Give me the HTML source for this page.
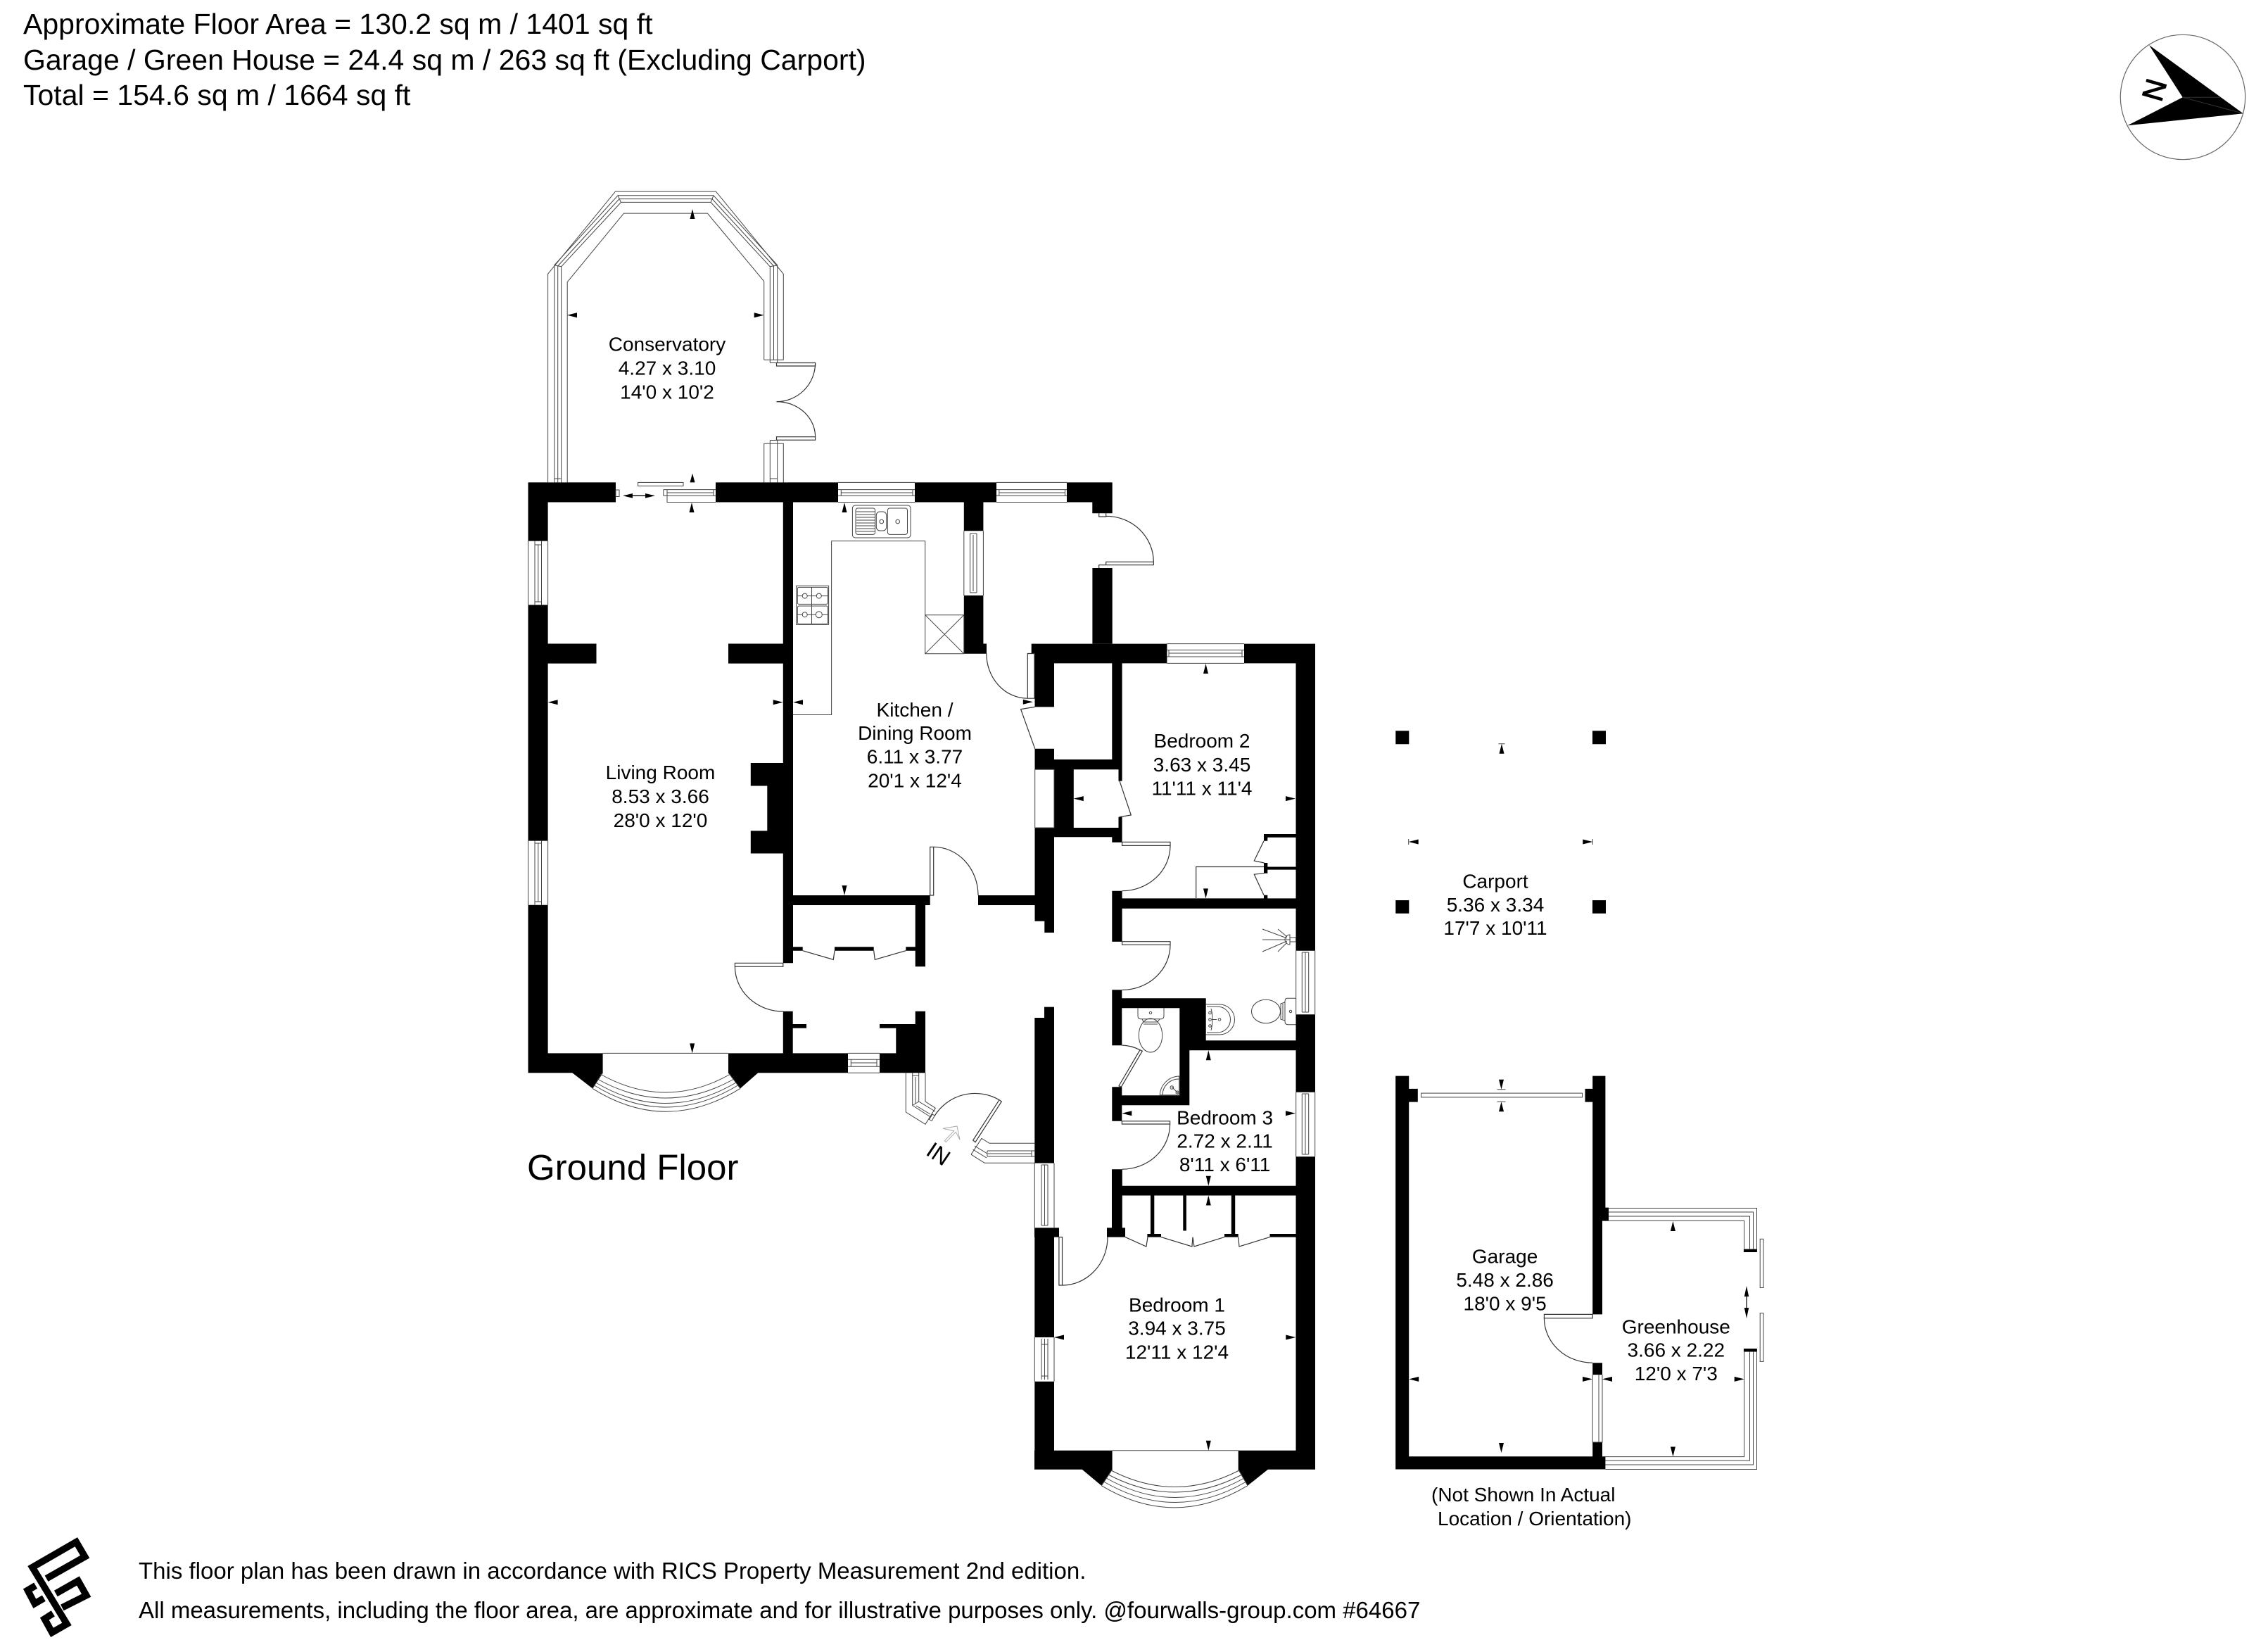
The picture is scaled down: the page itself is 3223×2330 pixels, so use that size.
<!DOCTYPE html>
<html><head><meta charset="utf-8"><title>Floor plan</title>
<style>
html,body{margin:0;padding:0;background:#fff}
svg{display:block}
text{font-family:"Liberation Sans",Arial,sans-serif;fill:#000}
.r text{font-size:28px;text-anchor:middle}
.t text{font-size:41px}
.f text{font-size:33px}
.l{fill:none;stroke:#444;stroke-width:1}
.d{fill:none;stroke:#333;stroke-width:1.2}
</style></head><body>
<svg width="3223" height="2330" viewBox="0 0 3223 2330" xmlns="http://www.w3.org/2000/svg">
<rect width="3223" height="2330" fill="#fff"/>

<g class="t">
<text x="33" y="48">Approximate Floor Area = 130.2 sq m / 1401 sq ft</text>
<text x="33" y="99">Garage / Green House = 24.4 sq m / 263 sq ft (Excluding Carport)</text>
<text x="33" y="149">Total = 154.6 sq m / 1664 sq ft</text>
</g>

<!-- compass -->
<circle cx="3102" cy="138" r="88.7" fill="none" stroke="#666" stroke-width="1.2"/>
<path d="M3054 64L3187.7 161.3L3023.3 178.3L3101.7 138.3Z" fill="#000"/>
<path d="M3102 138.3H3155M3102 138.3L3187 161" fill="none" stroke="#333" stroke-width="1"/>
<text transform="translate(3061,127.7) rotate(-74)" y="15" text-anchor="middle" font-size="42" stroke="#000" stroke-width="1">N</text>

<!-- black walls -->
<path fill="#000" d="
M750.5 685.4H875V713.5H750.5Z
M1017 685.4H1191V713.5H1017Z
M1300 685.4H1416V713.5H1300Z
M1516 685.4H1580.7V713.5H1516Z
M1552.3 713.3H1580.7V729.3H1552.3Z
M750.5 713.5H778.6V768.6H750.5Z
M750.5 859.4H778.6V1194.6H750.5Z
M750.5 1285.7H778.6V1496.4H750.5Z
M750.5 914.5H847.5V942.6H750.5Z
M1035 914.5H1127V942.6H1035Z
M1112.8 713.5H1127V1368.3H1112.8Z
M1112.8 1436.7H1126.7V1496.4H1112.8Z
M1066.8 1084H1126.5V1116.5H1066.8Z
M1090.3 1116.5H1126.5V1180.4H1090.3Z
M1066.8 1180.4H1126.5V1212.5H1066.8Z
M750.5 1496.4H856.6V1524.2H750.5Z
M1035 1496.4H1205V1524.2H1035Z
M1250 1496.4H1315V1524.2H1250Z
M813 1524H856.6L842 1546.4Z
M1035 1524H1077.5L1052 1546.4Z
M1112.8 1272H1321.7V1286H1112.8Z
M1390 1272H1498V1286H1390Z
M1300.7 1286H1315V1373.3H1300.7Z
M1112.8 1345.3H1140.7V1350.7H1112.8Z
M1186 1345.3H1241.7V1350.7H1186Z
M1287.3 1345.3H1315V1350.7H1287.3Z
M1112.8 1455H1146V1460.7H1112.8Z
M1300.7 1436.7H1315V1455H1300.7Z
M1250 1455H1315V1460.7H1250Z
M1273.3 1460.7H1315V1496.4H1273.3Z
M1369.8 713.5H1397.4V754.3H1369.8Z
M1369.8 846H1397.4V914.5H1369.8Z
M1369.8 914.5H1402V928.8H1369.8Z
M1552.4 807H1580.7V914.5H1552.4Z
M1465.7 914.6H1658.4V928.8H1465.7Z
M1470.3 928.8H1658.4V942.4H1470.3Z
M1768 914.6H1869V942.4H1768Z
M1470.5 942.4H1498V1004.4H1470.5Z
M1580.3 942.4H1594.6V1079H1580.3Z
M1470.5 1063.7H1498V1079H1470.5Z
M1470.5 1079H1594.6V1093.3H1470.5Z
M1498 1093.3H1525.8V1176H1498Z
M1589.5 1093.3H1594.6V1109.6H1589.5Z
M1589.5 1160.6H1594.6V1176H1589.5Z
M1470.5 1176H1594.6V1189.2H1470.5Z
M1580.3 1189.2H1594.6V1196.8H1580.3Z
M1470.5 1189.2H1498V1308.7H1470.5Z
M1484.3 1308.7H1498V1325H1484.3Z
M1841.5 942.4H1869V1350.7H1841.5Z
M1841.5 1441.3H1869V1551.7H1841.5Z
M1841.5 1643.3H1869V2087.8H1841.5Z
M1580.3 1265.7H1594.6V1276.4H1580.3Z
M1580.3 1276.4H1869V1290.7H1580.3Z
M1580.3 1290.7H1594.6V1337.9H1580.3Z
M1580.3 1406.3H1594.3V1418.3H1580.3Z
M1580.3 1418.3H1713.7V1432.3H1580.3Z
M1580.3 1432.3H1594.3V1485.3H1580.3Z
M1676.3 1432.3H1713.7V1478.3H1676.3Z
M1676.3 1478.3H1869V1492.3H1676.3Z
M1676.3 1492.3H1690.3V1556.3H1676.3Z
M1580.3 1556.3H1690.3V1570.3H1580.3Z
M1580.3 1544.3H1594.3V1556.3H1580.3Z
M1580.3 1570.3H1594.3V1592.8H1580.3Z
M1580 1661.2H1594.8V1684.7H1580Z
M1580 1684.7H1869V1698.5H1580Z
M1580 1698.5H1594.8V1744.4H1580Z
M1573 1744.4H1599V1757.6H1573Z
M1635 1698.5H1640.3V1753H1635Z
M1681.3 1698.5H1685.9V1748.5H1681.3Z
M1749.8 1698.5H1755.2V1753H1749.8Z
M1630.4 1753H1650V1757.6H1630.4Z
M1740 1753H1759.7V1757.6H1740Z
M1804.5 1753H1841.5V1757.6H1804.5Z
M1484 1430.6H1498V1446H1484Z
M1470.3 1446H1498V1652.5H1470.3Z
M1470 1744.4H1505V1757.6H1470Z
M1470.3 1757.6H1498V1900H1470.3Z
M1470.3 1962.8H1498V2060.7H1470.3Z
M1470 2060.7H1580.6V2087.8H1470Z
M1759.7 2060.7H1869V2087.8H1759.7Z
M1537.8 2087.8H1580.6L1565.3 2110.7Z
M1759.7 2087.8H1801.8L1773 2110.7Z
M1796 1185H1841.5V1189.7H1796Z
M1796 1185H1801.3V1194.8H1796Z
M1796 1226H1801.3V1240.7H1796Z
M1796 1231.5H1841.5V1235.6H1796Z
M1796 1271.8H1801.3V1276.4H1796Z
M1983.2 1528.6H2002.2V2087.5H1983.2Z
M1983.2 1546.9H2014.8V1565.6H1983.2Z
M2263.2 1528.6H2281.4V1715.6H2263.2Z
M2252.5 1546.9H2281.4V1565.6H2252.5Z
M2263.2 1715.6H2286V1734.4H2263.2Z
M2263.2 1734.4H2277V1867.4H2263.2Z
M2263.2 1936.2H2277V1953.1H2263.2Z
M2263.2 2049H2277V2069.2H2263.2Z
M1983.2 2069.2H2281.4V2087.5H1983.2Z
M2477.9 1774.6H2496.9V1779H2477.9Z
M2477.9 1916H2496.9V1920.5H2477.9Z
M1983.3 1038.3H2002.3V1057.3H1983.3Z
M2263 1038.3H2282V1057.3H2263Z
M1983.3 1279H2002.3V1297.7H1983.3Z
M2263 1279H2282V1297.7H2263Z
"/>

<!-- conservatory -->
<g class="l">
<path d="M778.6 685.4V389.2L874.5 272.1H1017.4L1113.3 389.2V511.3H1085.7"/>
<path d="M806.2 685.4V400.7L886.5 303.1H1005.4L1085.7 399.6V511.3"/>
<path d="M787.8 685.4V376.7L878 277.8H1014L1104.7 376.7V515.5"/>
<path d="M797.6 685.4V378.8L882.5 287.4H1010L1094.3 378.8V515.5"/>
<path d="M792.7 685.4V378L880 282.6H1012L1099.5 378V511"/>
<path d="M878 277.8L882.5 287.4M1014 277.8L1010 287.4M787.8 376.7L797.6 378.8M1104.7 376.7L1094.3 378.8"/>
<path d="M1094.3 515.5H1103.5"/>
<path d="M787.8 680H797.6M1094.3 680H1104.7"/>
<path d="M1085.7 685.4V630.3H1113.3V685.4M1094.3 625.5V685.4M1104.7 625.5V685.4M1094.3 625.5H1103.5"/>
</g>
<g class="d" stroke-width="1.4">
<path d="M1103.5 515.5H1158.6V520H1103.5Z"/>
<path d="M1158.6 515.5A55 55 0 0 1 1103.5 570.6"/>
<path d="M1103.5 570.6A55 50 0 0 1 1158.6 620.6"/>
<path d="M1103.5 620.6H1158.6V625.2H1103.5Z"/>
</g>
<!-- slider doors at conservatory -->
<g class="l">
<rect x="875" y="696" width="5" height="9.5"/>
<rect x="906.6" y="685.4" width="64.4" height="5"/>
<path d="M942.8 695.6H1017M942.8 704.3H1017M942.8 695.6V704.3M948 695.6V713.5H1017M1014 695.6V704.3M948 700H1014"/>
</g>
<path d="M885 704.3L899 701V703.6H917V701L931 704.3L917 707.6V705H899V707.6Z" fill="#000"/>

<!-- windows -->
<g class="l">
<path d="M1191 685.4H1300M1191 713.5H1300M1191 695.6H1300M1191 704.3H1300M1195.3 695.6V704.3M1297 695.6V704.3M1195.3 700H1297"/>
<path d="M1416 685.4H1516M1416 713.5H1516M1416 695.6H1516M1416 704.3H1516M1419.8 695.6V704.3M1513.5 695.6V704.3M1419.8 700H1513.5"/>
<path d="M750.5 768.6V859.4M778.6 768.6V859.4M760 768.6V859.4M769.5 768.6V859.4M764.8 774V855M760 774H769.5M760 855H769.5"/>
<path d="M750.5 1194.6V1285.7M778.6 1194.6V1285.7M760 1194.6V1285.7M769.5 1194.6V1285.7M764.8 1198V1281M760 1198H769.5M760 1281H769.5"/>
<path d="M1369.8 754.3V846M1397.4 754.3V846M1378.5 758V842M1388 758V842M1383 760V840M1378.5 758H1388M1378.5 842H1388"/>
<path d="M1205 1496.4H1250M1205 1524.2H1250M1205 1505.3H1250M1205 1515.3H1250M1209.3 1505.3V1515.3M1246 1505.3V1515.3M1209.3 1510H1246"/>
<path d="M1658.4 914.6H1768M1658.4 942.4H1768M1658.4 923.5H1768M1658.4 933H1768M1661 923.5V933M1765 923.5V933M1661 928H1765"/>
<path d="M1470.7 1093.3H1498V1176H1470.7Z"/>
<path d="M1841.7 1350.7V1441.3M1868.7 1350.7V1441.3M1850.3 1353V1438M1859.7 1353V1438M1855 1353V1438M1850.3 1353H1859.7M1850.3 1438H1859.7"/>
<path d="M1841.7 1551.7V1643.3M1868.7 1551.7V1643.3M1850.3 1554V1640M1859.7 1554V1640M1855 1554V1640M1850.3 1554H1859.7M1850.3 1640H1859.7"/>
<path d="M1470.3 1652.5V1744.4M1498 1652.5V1744.4M1480 1655V1741M1489 1655V1741M1484.5 1655V1741M1480 1655H1489M1480 1741H1489"/>
<path d="M1470.3 1900V1962.8M1498 1900V1962.8M1480 1902V1960M1489 1902V1960M1484.5 1902V1960M1480 1910H1489M1480 1955H1489"/>
<path d="M856.6 1496.4H1035M1580.6 2060.7H1759.7"/>
</g>

<!-- bays -->
<g class="l">
<path d="M853 1526Q946 1578 1038 1526"/>
<path d="M842 1546.4Q946 1612 1052 1546.4"/>
<path d="M849 1533Q946 1587 1043 1533"/>
<path d="M846.5 1538Q946 1597 1046 1538"/>
<path d="M844.5 1542Q946 1604 1048.5 1542"/>
<path d="M856.6 1524L842 1546.4M1035 1524L1052 1546.4"/>
<path d="M1579 2089Q1670 2136 1761 2089"/>
<path d="M1565.3 2110.7Q1669 2173 1773 2110.7"/>
<path d="M1575 2095Q1670 2145 1765 2095"/>
<path d="M1572 2100Q1670 2155 1768 2100"/>
<path d="M1568.5 2105Q1670 2164 1771 2105"/>
<path d="M1580.6 2087.8L1565.3 2110.7M1759.7 2087.8L1773 2110.7"/>
</g>

<!-- porch -->
<g class="l">
<path d="M1287.3 1524.3V1580L1315 1597.3L1329.3 1574.3L1315 1565V1524.3"/>
<path d="M1296.7 1524.3V1570.5L1322.5 1587M1305.7 1524.3V1565L1329 1579M1301 1530V1568"/>
<path d="M1296.7 1528H1305.7M1296.7 1570.5L1305.7 1565M1302 1571L1322 1583M1320.5 1590.5L1324 1592.5L1328.3 1585L1325 1583Z"/>
<path d="M1395 1617.3L1406 1624.3H1470.3M1399 1652.2H1470.3M1380 1640.2L1399 1652.2M1395 1617.3L1380 1640.2"/>
<path d="M1403 1635H1470.3M1403 1643H1470.3M1403 1635V1643M1404 1639H1466M1466 1635V1643M1385 1628L1403 1639M1382.5 1633L1402 1645"/>
</g>
<g class="d">
<path d="M1328.3 1585A68 68 0 0 1 1420 1562.7"/>
<path d="M1420 1562.7L1423.3 1565L1386 1622.7L1382.7 1620Z"/>
</g>
<path d="M1340 1603.3L1360 1600L1364 1619.3L1358.3 1608.3L1344.3 1622.7L1342.3 1620.7L1355.7 1606.7Z" fill="none" stroke="#aaa" stroke-width="1"/>
<text transform="translate(1334,1639) rotate(34)" y="11.5" text-anchor="middle" font-size="32">IN</text>

<!-- internal doors -->
<g class="d">
<path d="M1321.7 1272V1203.3H1326.7V1272H1321.7"/>
<path d="M1326.7 1203.3A63.3 68.7 0 0 1 1390 1272"/>
<path d="M1044.4 1368.3H1112.8V1373.3H1044.4Z"/>
<path d="M1044.4 1373.3A68.4 64 0 0 0 1112.8 1437"/>
<path d="M1140.7 1350.7L1184.3 1363.3L1186 1350.7M1241.7 1350.7L1243.3 1363.3L1287.3 1350.7"/>
<path d="M1401.8 928.5A58.5 63.7 0 0 0 1460.3 992.2"/>
<path d="M1460.3 928.5H1470V992.2H1460.3Z"/>
<path d="M1470.5 1004.4L1450.6 1007.6L1470.7 1063.7"/>
<path d="M1591 1109.6L1607.3 1158L1591 1160.6"/>
<path d="M1594.6 1196.3H1663V1201.4H1594.6Z"/>
<path d="M1663 1201.4A68.4 64.3 0 0 1 1594.6 1265.7"/>
<path d="M1594.6 1337.7H1663V1342.2H1594.6Z"/>
<path d="M1663 1342.2A68.4 64.3 0 0 1 1594.6 1406.5"/>
<path d="M1796 1194.8L1782.3 1222.9L1796.7 1226M1796 1271.8L1782.3 1242.2L1796.7 1240.7"/>
<path d="M1699.7 1276V1231.5H1796"/>
<path d="M1594.3 1485A60 60 0 0 1 1620 1491.7"/>
<path d="M1620 1491.7L1623.3 1493.3L1593.3 1544.3L1590 1542.7Z"/>
<path d="M1594.4 1592.8H1662.6V1597H1594.4Z"/>
<path d="M1662.6 1597A68.2 64.2 0 0 1 1594.4 1661.2"/>
<path d="M1599 1757.6L1628.9 1771L1631 1757.6M1650 1757.6L1693.9 1771L1695 1757.6L1697 1771L1740 1757.6M1759.7 1757.6L1761 1771L1804.5 1757.6"/>
<path d="M1504.9 1757.6H1509.5V1826H1504.9Z"/>
<path d="M1509.5 1826A64.5 68.4 0 0 0 1574 1757.6"/>
<path d="M1561.7 729.3V734H1571.7V729.3M1571.7 733.3A67.6 65 0 0 1 1639.3 798.3"/>
<path d="M1571.7 798.3H1639.3V802.7H1571.7ZM1571.7 802.7H1561.7V807"/>
</g>

<!-- kitchen fittings -->
<g class="l">
<path d="M1127 1015.5H1181.6V768.6H1314.7V928.8H1369.8M1314.7 873.7H1369.8V928.8M1314.7 873.7L1369.8 928.8M1369.8 873.7L1314.7 928.8"/>
<rect x="1211.4" y="718" width="82.6" height="46" rx="4"/>
<rect x="1216" y="722" width="27.6" height="37.4" rx="3"/>
<rect x="1245.3" y="727" width="14.4" height="27" rx="5"/>
<rect x="1261.4" y="722" width="28.1" height="37.4" rx="3"/>
<path d="M1217 727H1243M1217 731H1243M1217 735H1243M1217 739H1243M1217 743H1243M1217 747H1243M1217 751H1243M1217 755H1243"/>
<circle cx="1252.8" cy="741" r="2.8"/><circle cx="1275.7" cy="741" r="2.8"/>
<rect x="1131.6" y="832.3" width="46" height="55"/>
<rect x="1133.4" y="834.4" width="43" height="24" rx="2"/>
<rect x="1133.4" y="861" width="43" height="25.5" rx="2"/>
<path d="M1153.5 834.4V886.5M1133.4 846.6H1176.4M1133.4 873.2H1176.4"/>
<circle cx="1143.7" cy="846.6" r="3.5" fill="#fff"/><circle cx="1163.8" cy="846.6" r="3.5" fill="#fff"/>
<circle cx="1143.7" cy="873.2" r="3.5" fill="#fff"/><circle cx="1163.8" cy="873.2" r="4.5" fill="#fff"/>
</g>

<!-- bathroom fittings -->
<g class="l">
<path d="M1834 1335L1794 1335M1829 1333L1794 1320M1829 1337L1794 1352M1829 1331L1816 1320M1829 1339L1816 1352"/>
<path d="M1833 1328A7 7 0 0 0 1833 1342ZM1833 1332H1841.5V1338H1833"/>
<path d="M1713.7 1427H1733A21.5 21.5 0 0 1 1733 1470H1713.7M1715 1430H1730A18.5 18.5 0 0 1 1730 1467H1715"/>
<circle cx="1719.5" cy="1439" r="1.8"/><circle cx="1719.5" cy="1448.5" r="1.8"/><circle cx="1719.5" cy="1457.5" r="1.8"/><circle cx="1733" cy="1448.5" r="1.8"/>
<path d="M1722 1448.5H1729M1721 1433Q1725 1447 1721 1464"/>
<path d="M1841.5 1418.3H1829Q1826 1418.3 1826 1423V1451Q1826 1455.7 1830 1455.7H1841.5"/>
<path d="M1826 1424L1820 1426V1448L1826 1450M1823 1426V1448"/>
<ellipse cx="1799" cy="1437" rx="20.5" ry="16.7"/>
<circle cx="1834" cy="1437" r="1.7"/>
<path d="M1617 1432.3V1443Q1617 1447.7 1621 1447.7H1650Q1654 1447.7 1654 1443V1432.3"/>
<path d="M1623 1447.7L1625 1452H1645L1648 1447.7M1625 1455H1645"/>
<ellipse cx="1635" cy="1471" rx="16.7" ry="24"/>
<circle cx="1635" cy="1439" r="1.7"/>
<path d="M1648.3 1555.7A28 28 0 0 1 1675.7 1529V1555.7ZM1652 1555.7A23 23 0 0 1 1675 1533"/>
<path d="M1665 1544L1674 1553"/><circle cx="1665.3" cy="1545" r="2.3"/><circle cx="1673" cy="1552" r="2"/>
</g>

<!-- garage & greenhouse -->
<g class="l">
<rect x="2019.6" y="1553.1" width="228.9" height="5.8"/>
<path d="M2286 1716.5H2496.5V1775M2286 1722H2491.5V1775M2286 1728H2486.5V1775M2277 1734.4H2478.7V1775"/>
<path d="M2478.7 1920V2069.6H2281.4M2486.5 1920V2075H2281.4M2491.5 1920V2081H2281.4M2496.5 1920V2087.5H2281.4"/>
<rect x="2501.2" y="1760.3" width="4.8" height="69.2"/>
<rect x="2501.2" y="1865.6" width="4.8" height="68.8"/>
<path d="M2263.2 1953.1V2049H2277V1953.1M2272 1953.1V2049"/>
</g>
<g class="d">
<path d="M2194.4 1867.4H2263.2V1872.8H2194.4Z"/>
<path d="M2194.4 1872.8A68.8 63.4 0 0 0 2263.2 1936.2"/>
</g>
<path d="M2482 1827L2485.2 1842H2482.6V1858H2485.2L2482 1873L2478.8 1858H2481.4V1842H2478.8Z" fill="#000"/>

<!-- dimension arrows -->
<path fill="#000" d="
M984 297l-3.5 14h7z
M806 447.7l14-3.5v7z
M1085.7 447.7l-14-3.5v7z
M984 672.6l-3.5 12.8h7z
M983 714l-3.5 14h7z
M1200 714l-3.5 14h7z
M778.6 997.7l14-3.5v7z
M1112.7 997.7l-14-3.5v7z
M1127 997.7l14-3.5v7z
M1467.8 997.3l-14-3.5v7z
M1200 1272l-3.5-14h7z
M983.7 1496.4l-3.5-14h7z
M1713.5 943l-3.5 14h7z
M1525.8 1134.6l14-3.5v7z
M1841 1134.6l-14-3.5v7z
M1713.5 1276.4l-3.5-14h7z
M1717.3 1492.3l-3.5 14h7z
M1594.3 1581.7l14-3.5v7z
M1841 1581.7l-14-3.5v7z
M1717.3 1684.7l-3.5-14h7z
M1717.3 1698.5l-3.5 14h7z
M1498 1900l14-3.5v7z
M1841.3 1900l-14-3.5v7z
M1717.3 2060.7l-3.5-14h7z
M2133.5 1547.8l-3.5-14h7z
M2133.5 1565.2l-3.5 14h7z
M2002.2 1959.4l14-3.5v7z
M2263 1959.4l-14-3.5v7z
M2133.5 2064l-3.5-14h7z
M2377.4 1735l-3.5 14h7z
M2377.4 2069.5l-3.5-14h7z
M2277 1959.4l14-3.5v7z
M2478.7 1959.4l-14-3.5v7z
M2134 1056.7l-3.5 14h7z
M2001.7 1196l14-3.5v7z
M2263.3 1196l-14-3.5v7z
"/>
<path class="l" d="M2127.5 1547.8H2139.5M2127.5 1565.2H2139.5M2129.5 1056.7H2138.5M2001.7 1192V1200M2263.3 1192V1200"/>

<!-- room labels -->
<g class="r">
<text x="948" y="498.7">Conservatory</text><text x="948" y="532.3">4.27 x 3.10</text><text x="948" y="566.5">14'0 x 10'2</text>
<text x="1300" y="1017.8">Kitchen /</text><text x="1300" y="1051">Dining Room</text><text x="1300" y="1084.6">6.11 x 3.77</text><text x="1300" y="1118.3">20'1 x 12'4</text>
<text x="938.5" y="1107">Living Room</text><text x="938.5" y="1141">8.53 x 3.66</text><text x="938.5" y="1175">28'0 x 12'0</text>
<text x="1708" y="1062">Bedroom 2</text><text x="1708" y="1095.8">3.63 x 3.45</text><text x="1708" y="1129.5">11'11 x 11'4</text>
<text x="1740.6" y="1597.4">Bedroom 3</text><text x="1740.6" y="1630.6">2.72 x 2.11</text><text x="1740.6" y="1663.8">8'11 x 6'11</text>
<text x="1672.5" y="1863.3">Bedroom 1</text><text x="1672.5" y="1896.4">3.94 x 3.75</text><text x="1672.5" y="1930.6">12'11 x 12'4</text>
<text x="2125" y="1261.7">Carport</text><text x="2125" y="1295">5.36 x 3.34</text><text x="2125" y="1328">17'7 x 10'11</text>
<text x="2138.6" y="1794.6">Garage</text><text x="2138.6" y="1828">5.48 x 2.86</text><text x="2138.6" y="1861.6">18'0 x 9'5</text>
<text x="2381.8" y="1894.6">Greenhouse</text><text x="2381.8" y="1927.7">3.66 x 2.22</text><text x="2381.8" y="1961">12'0 x 7'3</text>
</g>
<text x="2034" y="2133" font-size="28">(Not Shown In Actual</text>
<text x="2043" y="2167" font-size="28">Location / Orientation)</text>
<text x="749" y="1676" font-size="51">Ground Floor</text>

<!-- logo -->
<g transform="translate(0,2170) scale(.3333)" fill="none" stroke="#000" stroke-width="29" stroke-linejoin="miter">
<path d="M226 367L190 390L222 448L285 412L138 170L325 62L362 125L198 218"/>
<path d="M238 282L333 228L368 290L265 342"/>
<path d="M152 248L118 268L148 325L187 302"/>
</g>
<g class="f">
<text x="197" y="2243">This floor plan has been drawn in accordance with RICS Property Measurement 2nd edition.</text>
<text x="197" y="2299">All measurements, including the floor area, are approximate and for illustrative purposes only. @fourwalls-group.com #64667</text>
</g>
</svg>
</body></html>
